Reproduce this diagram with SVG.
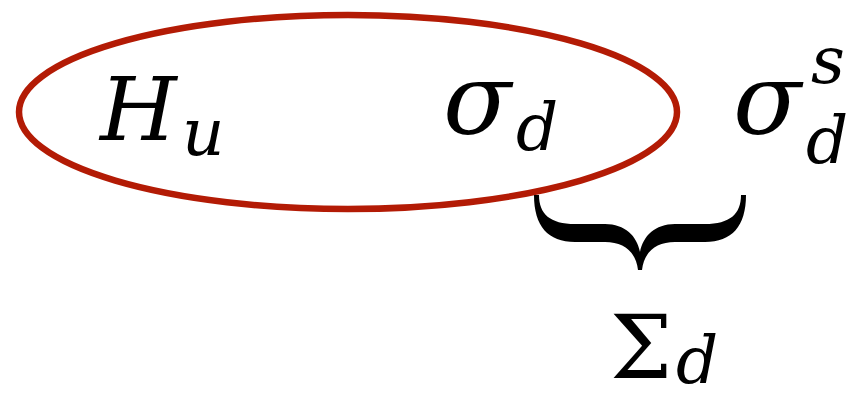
<svg xmlns="http://www.w3.org/2000/svg" width="859" height="399" viewBox="0 0 859 399">
<style>
text{font-family:"DejaVu Serif","Liberation Serif",serif;font-style:italic;fill:#000}
.big{font-size:88px}
.sig{font-size:100px}
.sub{font-size:66px}
.up{font-style:normal}
</style>
<rect width="859" height="399" fill="#fff"/>
<g id="set">
<ellipse cx="348" cy="112" rx="329" ry="97" fill="none" stroke="#b31b05" stroke-width="6.5"/>
</g>
<g id="Hu"><text class="big" x="100" y="140">H</text><text class="sub" x="182" y="155">u</text></g>
<g id="sigma_d"><text class="sig" x="443" y="134">σ</text><text class="sub" x="516" y="150">d</text></g>
<g id="sigma_ds"><text class="sig" x="733" y="134">σ</text><text class="sub" x="811" y="83">s</text><text class="sub" x="806" y="163">d</text></g>
<g id="brace"><path d="M534 195 L539 195 C539 214 550 224 575 224 L605 224 C625 224 637 236 640 252 C643 236 655 224 675 224 L705 224 C730 224 741 214 741 195 L746 195 C746 226 732 242 705 242 L675 242 C656 242 644 252 642 270 L638 270 C636 252 624 242 605 242 L575 242 C548 242 534 226 534 195 Z" fill="#000"/></g>
<g id="Sigma_d"><text class="big up" x="610" y="378">Σ</text><text class="sub" x="676" y="383">d</text></g>
</svg>
